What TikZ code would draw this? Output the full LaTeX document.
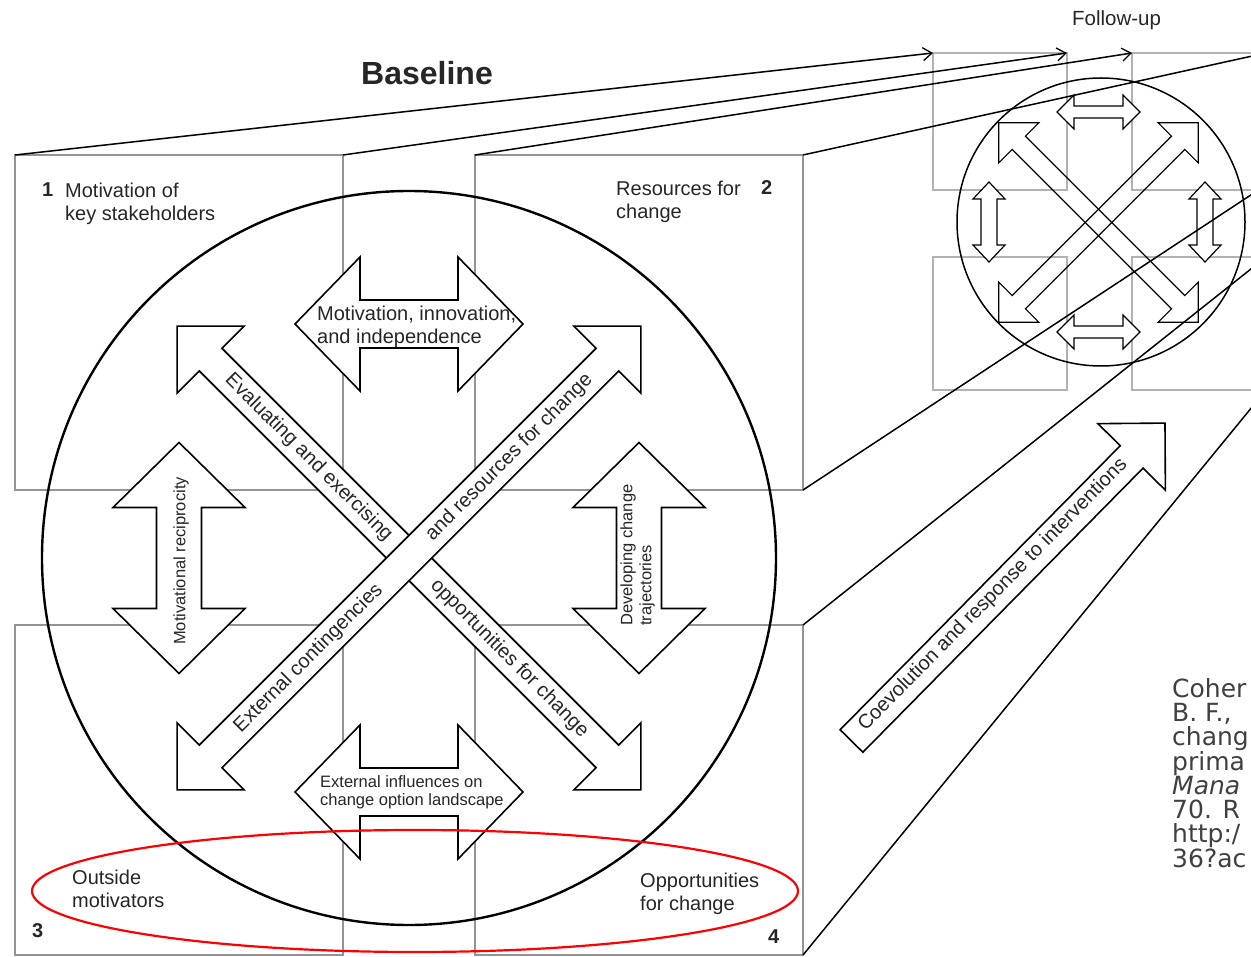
\documentclass[tikz,border=0pt]{standalone}
\usepackage{fontspec}
\setmainfont{Liberation Sans}
\newfontfamily\citefont{DejaVu Sans}
\usetikzlibrary{arrows.meta}

\tikzset{
  boxline/.style={draw=black!42, line width=2.6pt},
  fubox/.style={draw=black!30, line width=1.1pt},
  persp/.style={draw=black, line width=1.5pt},
  perspa/.style={persp, -{Straight Barb[length=9pt,width=13pt,line width=1.3pt]}},
  arrowshape/.style={draw=black, line width=1.6pt, fill=white, line join=miter},
  miniarrow/.style={draw=black, line width=1.2pt, fill=white, line join=miter},
  minicross/.style={draw=black, line width=1.2pt, line join=miter},
  bigcircle/.style={draw=black, line width=2.4pt},
  smallcircle/.style={draw=black, line width=1.5pt},
  lbl/.style={font=\fontsize{20}{23}\selectfont, inner sep=0pt, text=black!85, align=left},
  smalllbl/.style={font=\fontsize{16.5}{18.5}\selectfont, inner sep=0pt, text=black!85, align=left},
  numlbl/.style={font=\fontsize{20}{23}\selectfont\bfseries, inner sep=0pt, text=black!85},
  citation/.style={font=\citefont\fontsize{25}{24.3}\selectfont, inner sep=0pt, text=black!75, align=left},
  highlight/.style={draw=red, line width=2.2pt}
}

% double-headed arrow: [style]{cx}{cy}{angle}{half length}{head length}{head half width}{shaft half width}
\newcommand{\dblarr}[8][arrowshape]{%
  \begin{scope}[shift={(#2,#3)},rotate=#4]
    \draw[#1] (-#5,0) -- ({-#5+#6},#7) -- ({-#5+#6},#8) -- ({#5-#6},#8) -- ({#5-#6},#7)
      -- (#5,0) -- ({#5-#6},-#7) -- ({#5-#6},-#8) -- ({-#5+#6},-#8) -- ({-#5+#6},-#7) -- cycle;
  \end{scope}}

\begin{document}
\begin{tikzpicture}[x=1pt,y=-1pt]
\useasboundingbox (0,0) rectangle (1251,957);
\fill[white] (0,0) rectangle (1251,957);

% corner coordinates
\coordinate (b1nw) at (15,155);
\coordinate (b1ne) at (343,155);
\coordinate (b2nw) at (475,155);
\coordinate (b2ne) at (803,155);
\coordinate (b2se) at (803,490);
\coordinate (b4ne) at (803,625);
\coordinate (b4se) at (803,955);
\coordinate (f1nw) at (933,53);
\coordinate (f1ne) at (1067,53);
\coordinate (f2nw) at (1132,53);
\coordinate (f2ne) at (1266,53);
\coordinate (f2se) at (1266,185);
\coordinate (f4ne) at (1266,257);
\coordinate (f4se) at (1266,390);

% baseline boxes
\draw[boxline] (15,155) rectangle (343,490);
\draw[boxline] (475,155) rectangle (803,490);
\draw[boxline] (15,625) rectangle (343,955);
\draw[boxline] (475,625) rectangle (803,955);

% follow-up boxes
\draw[fubox] (933,53) rectangle (1067,190);
\draw[fubox] (1132,53) rectangle (1266,190);
\draw[fubox] (933,257) rectangle (1067,390);
\draw[fubox] (1132,257) rectangle (1266,390);

% follow-up circle and arrows
\draw[smallcircle] (1101,222) circle (144pt);
\dblarr[miniarrow]{1098.5}{112}{0}{41.5}{17}{17}{6}
\dblarr[miniarrow]{1098.5}{332}{0}{41.5}{17}{17}{6}
\dblarr[miniarrow]{989}{222}{90}{40}{17}{16}{8}
\dblarr[miniarrow]{1205}{222}{90}{40}{17}{16}{8}
\dblarr[minicross]{1098.5}{222.5}{-45}{141}{28.3}{28.3}{9.4}
\dblarr[minicross]{1098.5}{222.5}{45}{141}{28.3}{28.3}{9.4}

% perspective connectors
\draw[perspa] (b1nw) -- (f1nw);
\draw[perspa] (b1ne) -- (f1ne);
\draw[perspa] (b2nw) -- (f2nw);
\draw[perspa] (b2ne) -- (f2ne);
\draw[persp] (b2se) -- (f2se);
\draw[persp] (b4ne) -- (f4ne);
\draw[persp] (b4se) -- (f4se);

% baseline circle
\draw[bigcircle] (409,558) circle (367pt);

% baseline arrows
\dblarr{409}{324}{0}{114}{65}{67}{24}
\dblarr{409}{792}{0}{114}{65}{67}{24}
\dblarr{179}{558}{90}{115.5}{65}{66}{22.5}
\dblarr{639}{558}{90}{115.5}{65}{66}{22.5}
\dblarr{409}{558}{-45}{328}{47.4}{47.4}{16}
\dblarr{409}{558}{45}{328}{47.4}{47.4}{16}

% coevolution arrow
\begin{scope}[shift={(851.5,741)},rotate=45.4]
  \draw[arrowshape] (0,16) -- (399,16) -- (399,47.4) -- (446.5,0) -- (399,-47.4) -- (399,-16) -- (0,-16) -- cycle;
\end{scope}

% titles
\node[inner sep=0pt, font=\fontsize{32}{34}\selectfont\bfseries, text=black!85] (baseline) at (427,73.5) {Baseline};
\node[inner sep=0pt, font=\fontsize{20.5}{22}\selectfont, text=black!85] (followup) at (1116.5,20.7) {Follow-up};

% corner labels
\node[numlbl, anchor=base west] (n1) at (42,197) {1};
\node[lbl, anchor=north west] (q1) at (65,182.4) {Motivation of\\key stakeholders};
\node[numlbl, anchor=base west] (n2) at (761,195) {2};
\node[lbl, anchor=north west] (q2) at (616,180.4) {Resources for\\change};
\node[numlbl, anchor=base west] (n3) at (32,937) {3};
\node[lbl, anchor=north west] (q3) at (72,869.4) {Outside\\motivators};
\node[numlbl, anchor=base west] (n4) at (768,943) {4};
\node[lbl, anchor=north west] (q4) at (640,872.4) {Opportunities\\for change};

% arrow labels
\node[lbl, anchor=north west] (top) at (317,305.4) {Motivation, innovation,\\and independence};
\node[smalllbl, anchor=north west] (bottom) at (320,775) {External influences on\\change option landscape};
\node[smalllbl, rotate=90] (left) at (181,561) {Motivational reciprocity};
\node[smalllbl, rotate=90, anchor=west, font=\fontsize{16.5}{19}\selectfont] (right) at (637.5,626) {Developing change\\trajectories};
\node[lbl, rotate=-45] (d1) at (308.6,457.6) {Evaluating and exercising};
\node[lbl, rotate=-45] (d2) at (509.4,658.4) {opportunities for change};
\node[lbl, rotate=45] (d3) at (509.4,457.6) {and resources for change};
\node[lbl, rotate=45] (d4) at (308.6,658.4) {External contingencies};
\node[lbl, rotate=45.4] (coev) at (993,595) {Coevolution and response to interventions};

% highlight ellipse
\draw[highlight] (415,891) ellipse (383pt and 61pt);

% citation (cut by the right edge)
\node[citation, anchor=north west] (cite) at (1172,678) {Coher\\B. F.,\\chang\\prima\\\textit{Mana}\\70. R\\http:/\\36?ac};
\end{tikzpicture}
\end{document}
